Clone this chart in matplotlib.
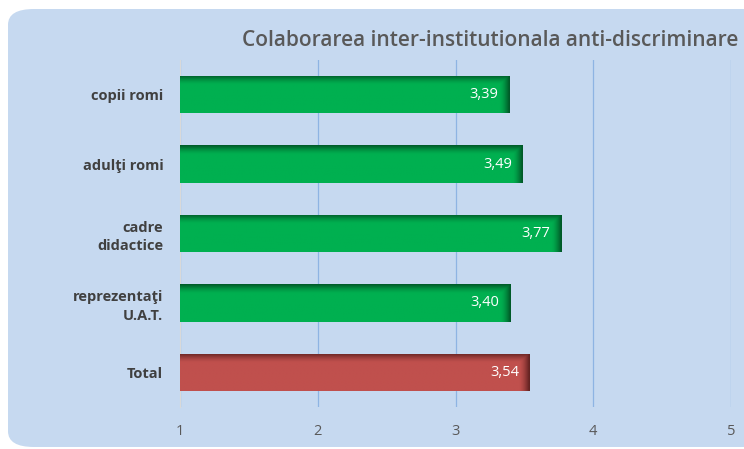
import matplotlib.pyplot as plt
import numpy as np
from matplotlib.patches import FancyBboxPatch
from matplotlib.colors import LinearSegmentedColormap

categories = ["copii romi", "adulţi romi", "cadre\ndidactice", "reprezentaţi\nU.A.T.", "Total"]
values = [3.39, 3.49, 3.77, 3.40, 3.54]
value_labels = ["3,39", "3,49", "3,77", "3,40", "3,54"]
x_ticks = [1, 2, 3, 4, 5]

plt.rcParams['font.family'] = ['Open Sans', 'DejaVu Sans']

fig = plt.figure(figsize=(7.44, 4.49), dpi=100)
fig.patch.set_facecolor('white')

# rounded blue panel behind the chart
panel = FancyBboxPatch((8 / 744, 2 / 449), 760 / 744, 438 / 449,
                       boxstyle="round,pad=0,rounding_size=0.035",
                       transform=fig.transFigure, facecolor='#c6d9f0',
                       edgecolor='none', zorder=-5)
fig.patches.append(panel)

ax = fig.add_axes([180 / 744, 42 / 449, 551 / 744, 347 / 449])
ax.set_facecolor('none')
ax.set_zorder(2)

y = np.arange(len(categories))
colors = ['#00b050'] * 4 + ['#c0504d']
darks = ['#005a28'] * 4 + ['#642322']
bar_h = 0.54

bars = ax.barh(y, [v - 1 for v in values], left=1, height=bar_h,
               color=colors, zorder=2, edgecolor='none')

# darker shading along top and right edge of each bar
for b, c, d in zip(bars, colors, darks):
    x0, y0 = b.get_x(), b.get_y()
    w, h = b.get_width(), b.get_height()
    ny, nx = 60, 200
    yy = np.linspace(0, 1, ny)[:, None]
    xx = np.linspace(0, 1, nx)[None, :]
    top = np.clip(1 - yy / 0.25, 0, 1) ** 1.5
    right = np.clip(1 - (1 - xx) * w / 0.07, 0, 1) ** 1.5
    shade = np.maximum(top, right)
    cmap = LinearSegmentedColormap.from_list('s', [c, d])
    img = cmap(shade)
    im = ax.imshow(img, extent=(x0, x0 + w, y0 + h, y0), aspect='auto',
                   zorder=3, interpolation='bilinear')
    im.set_clip_path(b)

for yi, v, lab in zip(y, values, value_labels):
    ax.text(v - 0.08, yi, lab, ha='right', va='center', color='white',
            fontsize=10.5, zorder=4)

ax.set_xlim(1, 5)
ax.set_ylim(len(categories) - 0.5, -0.5)
ax.set_xticks(x_ticks)
ax.set_xticklabels([str(t) for t in x_ticks], color='#595959', fontsize=10.5)
ax.set_yticks(y)
ax.set_yticklabels(categories, fontweight='bold', color='#404040', fontsize=10.5,
                   linespacing=1.4)
ax.tick_params(axis='both', length=0)
ax.tick_params(axis='x', pad=12)
ax.tick_params(axis='y', pad=12)
ax.xaxis.grid(True, color='#8eb4e3', linewidth=0.9, zorder=1)
ax.set_axisbelow(True)
for s in ['top', 'right', 'bottom']:
    ax.spines[s].set_visible(False)
ax.spines['left'].set_color('#d9d9d9')

fig.text(242 / 744, 1 - 40 / 449, "Colaborarea inter-institutionala anti-discriminare",
         ha='left', va='center', fontsize=15, fontweight='semibold', color='#595959')

fig.savefig('out.png', dpi=100)
